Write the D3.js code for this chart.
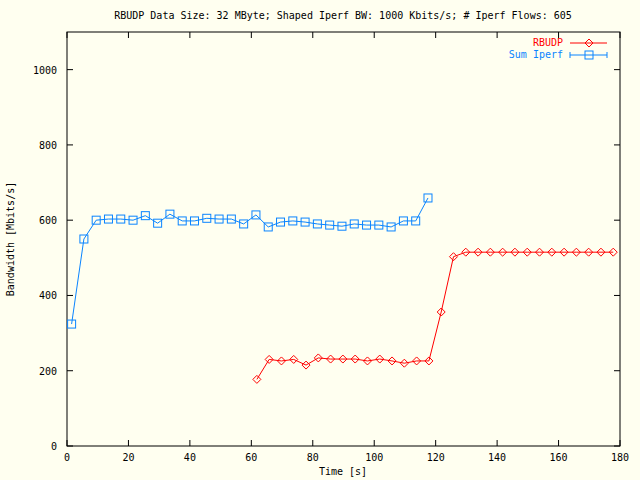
<!DOCTYPE html>
<html><head><meta charset="utf-8">
<script src="https://cdn.jsdelivr.net/npm/d3@7"></script>
<style>body{margin:0;background:#fffff0}text{font-family:"DejaVu Sans Mono",monospace;font-size:10px}</style>
</head><body><svg id="c" width="640" height="480"></svg>
<script>
// Sum Iperf series
const iperfT = d3.range(30).map(k => 1.5 + 4 * k);
const iperfV = [324,550,600,603,603,600,612,592,616,598,598,605,603,603,590,614,582,595,598,595,590,587,584,590,587,587,582,598,598,659];
// RBUDP series
const rbT = d3.range(30).map(k => 61.8 + 4 * k);
const rbV = [177,230,226,230,215,234,231,231,231,226,231,226,220,226,226,356,503,515,515,515,515,515,515,515,515,515,515,515,515,515];
const xTicks = [0,20,40,60,80,100,120,140,160,180];
const yTicks = [0,200,400,600,800,1000];

const svg = d3.select("#c");
svg.append("rect").attr("width",640).attr("height",480).attr("fill","#fffff0");
const x = d3.scaleLinear().domain([0,180]).range([67,620]);
const y = d3.scaleLinear().domain([0,1100]).range([446,32]);

svg.append("rect").attr("x",67).attr("y",32).attr("width",553).attr("height",414)
  .attr("fill","none").attr("stroke","#000");
xTicks.forEach(t => {
  svg.append("line").attr("x1",x(t)).attr("x2",x(t)).attr("y1",446).attr("y2",440).attr("stroke","#000");
  svg.append("line").attr("x1",x(t)).attr("x2",x(t)).attr("y1",32).attr("y2",38).attr("stroke","#000");
  svg.append("text").attr("x",x(t)).attr("y",461).attr("text-anchor","middle").text(t);
});
yTicks.forEach(t => {
  svg.append("line").attr("x1",67).attr("x2",73).attr("y1",y(t)).attr("y2",y(t)).attr("stroke","#000");
  svg.append("line").attr("x1",614).attr("x2",620).attr("y1",y(t)).attr("y2",y(t)).attr("stroke","#000");
  svg.append("text").attr("x",57).attr("y",y(t)+4).attr("text-anchor","end").text(t);
});
svg.append("text").attr("x",343).attr("y",19).attr("text-anchor","middle")
  .text("RBUDP Data Size: 32 MByte; Shaped Iperf BW: 1000 Kbits/s; # Iperf Flows: 605");
svg.append("text").attr("x",343).attr("y",475).attr("text-anchor","middle").text("Time [s]");
svg.append("text").attr("transform","translate(14,239) rotate(-90)").attr("text-anchor","middle").text("Bandwidth [Mbits/s]");

const line = d3.line().x(d => x(d[0])).y(d => y(d[1]));
const blue = "#0a84ff", red = "#ff0000";
const iperf = iperfT.map((t,i) => [t, iperfV[i]]);
const rb = rbT.map((t,i) => [t, rbV[i]]);

svg.append("path").datum(iperf).attr("d",line).attr("fill","none").attr("stroke",blue);
svg.selectAll(".sq").data(iperf).enter().append("rect")
  .attr("x",d => x(d[0])-4).attr("y",d => y(d[1])-4).attr("width",8).attr("height",8)
  .attr("fill","none").attr("stroke",blue);
svg.append("path").datum(rb).attr("d",line).attr("fill","none").attr("stroke",red);
svg.selectAll(".dm").data(rb).enter().append("path")
  .attr("d",d => `M${x(d[0])},${y(d[1])-4}l4,4l-4,4l-4,-4z`)
  .attr("fill","none").attr("stroke",red);

// legend
svg.append("text").attr("x",563).attr("y",46).attr("text-anchor","end").attr("fill",red).text("RBUDP");
svg.append("line").attr("x1",570).attr("x2",607).attr("y1",43).attr("y2",43).attr("stroke",red);
svg.append("path").attr("d","M589,39l4,4l-4,4l-4,-4z").attr("fill","none").attr("stroke",red);
svg.append("text").attr("x",563).attr("y",58).attr("text-anchor","end").attr("fill",blue).text("Sum Iperf");
svg.append("line").attr("x1",570).attr("x2",607).attr("y1",55).attr("y2",55).attr("stroke",blue);
svg.append("line").attr("x1",570).attr("x2",570).attr("y1",52).attr("y2",58).attr("stroke",blue);
svg.append("line").attr("x1",607).attr("x2",607).attr("y1",52).attr("y2",58).attr("stroke",blue);
svg.append("rect").attr("x",585).attr("y",51).attr("width",8).attr("height",8).attr("fill","none").attr("stroke",blue);
</script></body></html>
